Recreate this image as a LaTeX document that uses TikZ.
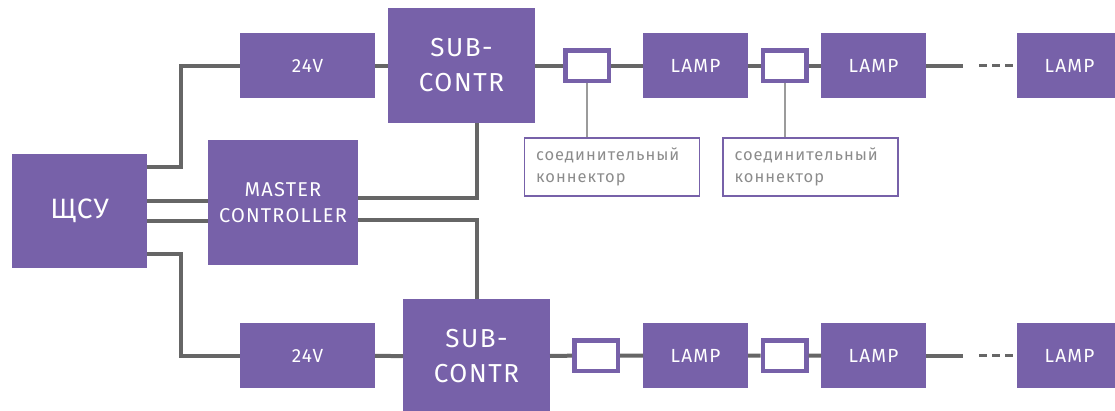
\documentclass[tikz,border=0pt]{standalone}
\usepackage{fontspec}
\setmainfont{Fira Sans}
\usetikzlibrary{calc, positioning}

\definecolor{lilac}{HTML}{7761A9}
\definecolor{wiregray}{HTML}{666666}
\definecolor{leadgray}{HTML}{9B9B9B}
\definecolor{notegray}{HTML}{8C8C8C}

\begin{document}
\begin{tikzpicture}[
    x=1pt, y=-1pt,
    block/.style={fill=lilac, text=white, inner sep=0pt, outer sep=0pt, align=center,
        font=\fontsize{19}{22}\selectfont\addfontfeature{LetterSpace=6}},
    lamp/.style={block, minimum width=105pt, minimum height=65pt},
    sub/.style={block, minimum width=147pt, minimum height=115pt,
        font=\fontsize{26}{35}\selectfont\addfontfeature{LetterSpace=6}},
    plug/.style={draw=lilac, fill=white, line width=4.5pt, minimum width=43.5pt, minimum height=30.5pt, inner sep=0pt},
    note/.style={draw=lilac, line width=1.6pt, minimum width=175pt, minimum height=58pt, inner sep=0pt,
        text width=152pt, align=left, text=notegray,
        font=\fontsize{16.5}{22}\selectfont\addfontfeature{LetterSpace=6}},
    wire/.style={wiregray, line width=4pt},
    lead/.style={leadgray, line width=2pt}
]
    \useasboundingbox (0,0) rectangle (1115,410);

    % 1. Щит и мастер-контроллер
    \node[block, minimum width=135pt, minimum height=114pt,
        font=\fontsize{28}{30}\selectfont\addfontfeature{LetterSpace=4}] (shcu) at (79.5,211) {ЩСУ};
    \node[block, minimum width=150pt, minimum height=125pt,
        font=\fontsize{20}{26}\selectfont\addfontfeature{LetterSpace=6}] (master) at (283,202.5) {MASTER\\CONTROLLER};

    % 2. Верхняя линия
    \node[block, minimum width=135pt, minimum height=65pt] (psuA) at (307.5,65.5) {24V};
    \node[sub] (subA) at (461.5,65.5) {SUB-\\CONTR};
    \node[plug] (plugA1) at (587,65.5) {};
    \node[lamp] (lampA1) at (695.5,65.5) {LAMP};
    \node[plug] (plugA2) at (784.5,65.5) {};
    \node[lamp] (lampA2) at (873.5,65.5) {LAMP};
    \node[lamp] (lampA3) at (1069.5,65.5) {LAMP};

    % 3. Нижняя линия
    \node[block, minimum width=135pt, minimum height=65pt] (psuB) at (307.5,355.5) {24V};
    \node[sub] (subB) at (476.5,356.5) {SUB-\\CONTR};
    \node[plug] (plugB1) at (596,355.5) {};
    \node[lamp] (lampB1) at (695.5,355.5) {LAMP};
    \node[plug] (plugB2) at (784.5,355.5) {};
    \node[lamp] (lampB2) at (873.5,355.5) {LAMP};
    \node[lamp] (lampB3) at (1069.5,355.5) {LAMP};

    % 4. Подписи к коннекторам
    \node[note] (noteA1) at (612,167) {соединительный\\коннектор};
    \node[note] (noteA2) at (810.5,167) {соединительный\\коннектор};

    % 5. Питание от щита
    \draw[wire] ($(shcu.north east)+(0,13)$) -| ($(psuA.west)+(-59,0)$) -- (psuA.west);
    \draw[wire] ($(shcu.south east)+(0,-14)$) -| ($(psuB.west)+(-59,0)$) -- (psuB.west);
    \draw[wire] ($(shcu.east)+(0,-10)$) coordinate (s1) -- (s1 -| master.west);
    \draw[wire] ($(shcu.east)+(0,10)$) coordinate (s2) -- (s2 -| master.west);

    % 6. Мастер -> субконтроллеры
    \draw[wire] ($(master.east)+(0,-4.5)$) -| (subB.north |- subA.south);
    \draw[wire] ($(master.east)+(0,17.5)$) -| (subB.north);

    % 7. Цепочки светильников
    \draw[wire] (psuA) -- (subA) -- (plugA1) -- (lampA1) -- (plugA2) -- (lampA2);
    \draw[wire] (psuB) -- (subB) -- (plugB1) -- (lampB1) -- (plugB2) -- (lampB2);
    \draw[wire] (lampA2.east) -- ++(37,0);
    \draw[wire] (lampB2.east) -- ++(37,0);
    \draw[wire, line width=3pt, dash pattern=on 8pt off 5pt] ($(lampA3.west)+(-38,0)$) -- (lampA3.west);
    \draw[wire, line width=3pt, dash pattern=on 8pt off 5pt] ($(lampB3.west)+(-38,0)$) -- (lampB3.west);

    % 8. Выноски
    \draw[lead] (plugA1.south) -- (plugA1.south |- noteA1.north);
    \draw[lead] (plugA2.south) -- (plugA2.south |- noteA2.north);

\end{tikzpicture}
\end{document}
